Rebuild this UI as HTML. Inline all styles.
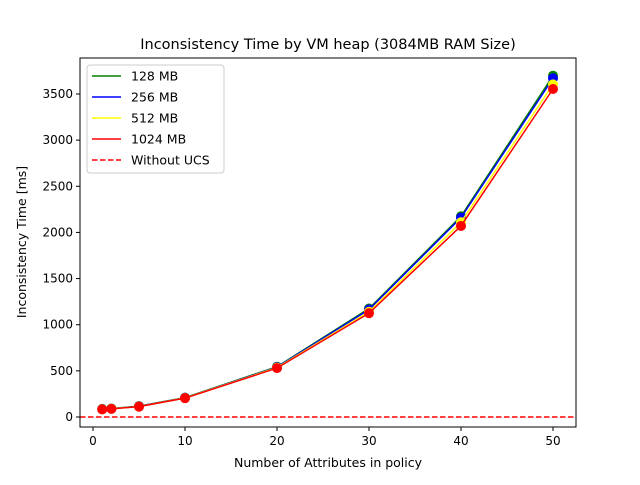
<!DOCTYPE html>
<html><head><meta charset="utf-8"><style>
body{margin:0;background:#fff;font-family:"Liberation Sans","DejaVu Sans",sans-serif}
text{font-family:"DejaVu Sans","Liberation Sans",sans-serif;fill:#000}
</style></head><body>
<svg id="chart" width="640" height="480" viewBox="0 0 640 480">
<rect width="640" height="480" fill="#fff"/>
<text x="328" y="49" font-size="14.5" text-anchor="middle">Inconsistency Time by VM heap (3084MB RAM Size)</text>
<g id="plot"></g>
<text x="328" y="467" font-size="12.5" text-anchor="middle">Number of Attributes in policy</text>
<text transform="translate(26,242) rotate(-90)" font-size="12.5" text-anchor="middle">Inconsistency Time [ms]</text>
</svg>
<script>
const xs=[1,2,5,10,20,30,40,50];
const s128=[88,92,118,210,545,1175,2175,3698];
const s256=[86,90,116,208,540,1165,2160,3670];
const s512=[84,89,114,206,535,1140,2110,3604];
const s1024=[82,88,112,204,530,1125,2070,3554];
const seriesNames=["128 MB","256 MB","512 MB","1024 MB"];
const seriesColors=["green","blue","yellow","red"];
const xTicks=[0,10,20,30,40,50];
const yTicks=[0,500,1000,1500,2000,2500,3000,3500];
const baseline=0;
const L=80,R=576,T=58,B=427;
const X=v=>93+v*9.2, Y=v=>417-v*0.09229;
const ns="http://www.w3.org/2000/svg";
const g=document.getElementById('plot');
function mk(t,a){const e=document.createElementNS(ns,t);for(const k in a)e.setAttribute(k,a[k]);g.appendChild(e);return e;}
xTicks.forEach(v=>{const l=mk('line',{x1:X(v),x2:X(v),y1:B,y2:B+4,stroke:'#000'});


const t=mk('text',{x:X(v),y:B+18,'font-size':12,'text-anchor':'middle'});t.textContent=v;

});
yTicks.forEach(v=>{const l=mk('line',{x1:L-4,x2:L,y1:Y(v),y2:Y(v),stroke:'#000'});


const t=mk('text',{x:L-7,y:Y(v)+4,'font-size':12,'text-anchor':'end'});t.textContent=v;

});
const bl=mk('line',{x1:L,x2:R,y1:Y(baseline),y2:Y(baseline),stroke:'red','stroke-width':1.5,'stroke-dasharray':'5.5,2.5'});


[s128,s256,s512,s1024].forEach((s,i)=>{
const p=mk('polyline',{points:xs.map((x,j)=>X(x)+','+Y(s[j])).join(' '),fill:'none',stroke:seriesColors[i],'stroke-width':1.5});


xs.forEach((x,j)=>{const c=mk('circle',{cx:X(x),cy:Y(s[j]),r:5,fill:seriesColors[i]});

});
});
const fr=mk('rect',{x:L,y:T,width:R-L,height:B-T,fill:'none',stroke:'#000','stroke-width':1});


const lg=mk('rect',{x:87,y:65,width:137,height:108,fill:'#fff','fill-opacity':0.8,stroke:'#ccc',rx:3});


const names=[...seriesNames,"Without UCS"],cols=[...seriesColors,"red"];
names.forEach((n,i)=>{const y=76+i*21;
const l=mk('line',{x1:92,x2:121,y1:y,y2:y,stroke:cols[i],'stroke-width':1.5});
if(i==4)l.setAttribute('stroke-dasharray','5.5,2.5');


const t=mk('text',{x:131,y:y+4.5,'font-size':12.5});t.textContent=n;

});
</script>
</body></html>
